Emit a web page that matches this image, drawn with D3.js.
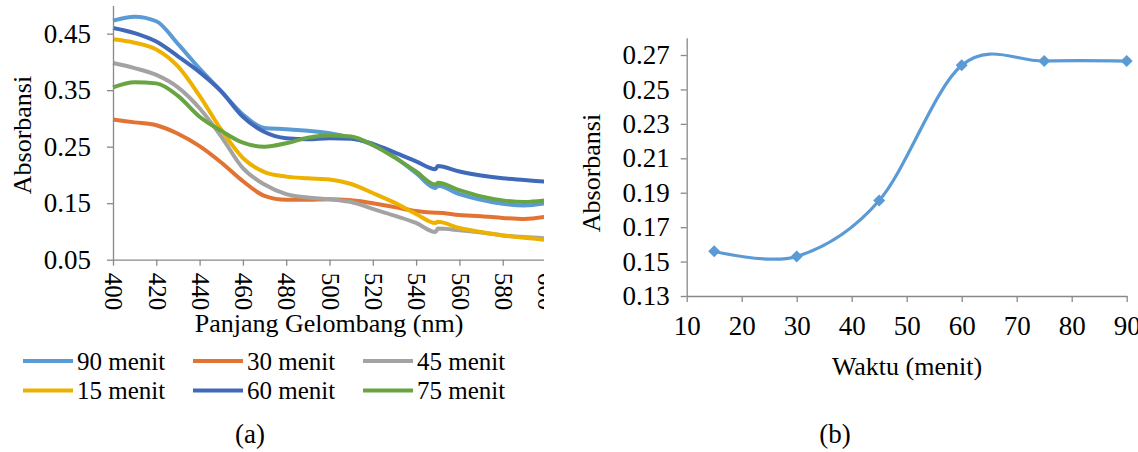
<!DOCTYPE html>
<html>
<head>
<meta charset="utf-8">
<script src="https://cdn.jsdelivr.net/npm/d3@7"></script>
<style>
  body { margin: 0; background: #fff; }
  svg { display: block; }
  .axis path, .axis line { stroke: #898989; stroke-width: 1.3; }
</style>
</head>
<body>
<svg id="chart" width="1138" height="452"></svg>
<script>
// (a) spectra
const wavelengths = [400, 410, 420, 430, 440, 450, 460, 470, 480, 490, 500, 510, 520, 530, 540, 549, 550, 560, 570, 580, 590, 600];
const abs90 = [0.473, 0.480, 0.472, 0.432, 0.388, 0.348, 0.307, 0.283, 0.281, 0.278, 0.274, 0.266, 0.253, 0.232, 0.203, 0.177, 0.181, 0.166, 0.156, 0.149, 0.146, 0.150];
const abs30 = [0.298, 0.293, 0.288, 0.273, 0.251, 0.222, 0.189, 0.163, 0.156, 0.156, 0.157, 0.155, 0.150, 0.143, 0.136, 0.133, 0.133, 0.129, 0.127, 0.124, 0.122, 0.126];
const abs45 = [0.398, 0.389, 0.377, 0.355, 0.318, 0.268, 0.212, 0.183, 0.166, 0.160, 0.157, 0.152, 0.140, 0.128, 0.115, 0.099, 0.105, 0.102, 0.098, 0.093, 0.090, 0.088];
const abs15 = [0.440, 0.434, 0.422, 0.392, 0.340, 0.280, 0.230, 0.205, 0.197, 0.194, 0.192, 0.184, 0.168, 0.151, 0.131, 0.115, 0.117, 0.106, 0.099, 0.093, 0.089, 0.085];
const abs60 = [0.460, 0.451, 0.436, 0.410, 0.382, 0.348, 0.303, 0.276, 0.265, 0.263, 0.265, 0.264, 0.255, 0.240, 0.224, 0.210, 0.216, 0.206, 0.199, 0.194, 0.191, 0.188];
const abs75 = [0.355, 0.364, 0.362, 0.340, 0.303, 0.278, 0.257, 0.250, 0.256, 0.266, 0.270, 0.268, 0.253, 0.231, 0.206, 0.183, 0.186, 0.173, 0.162, 0.155, 0.152, 0.155];

const seriesNames = ['90 menit', '30 menit', '45 menit', '15 menit', '60 menit', '75 menit'];
const seriesValues = [abs90, abs30, abs45, abs15, abs60, abs75];
const seriesColors = ['#5B9BD5', '#E37332', '#A3A3A3', '#EDB100', '#4169BA', '#68A542'];

const xTicksA = [400, 420, 440, 460, 480, 500, 520, 540, 560, 580, 600];
const yTicksA = [0.05, 0.15, 0.25, 0.35, 0.45];

// (b) absorbance vs time
const times = [15, 30, 45, 60, 75, 90];
const absTime = [0.156, 0.153, 0.1855, 0.264, 0.2665, 0.2665];
const xTicksB = [10, 20, 30, 40, 50, 60, 70, 80, 90];
const yTicksB = [0.13, 0.15, 0.17, 0.19, 0.21, 0.23, 0.25, 0.27];

const FONT = '"Liberation Serif", "DejaVu Serif", serif';
const svg = d3.select('#chart');

// ---------- panel (a) ----------
svg.append('defs').append('clipPath').attr('id', 'clipA')
  .append('rect').attr('x', 0).attr('y', 0).attr('width', 544).attr('height', 452);

const pa = svg.append('g').attr('clip-path', 'url(#clipA)');

const xA = d3.scaleLinear().domain([400, 600]).range([113, 546]);
const yA = d3.scaleLinear().domain([0.05, 0.5]).range([259.7, 5.4]);

const lineA = d3.line()
  .x((d, i) => xA(wavelengths[i]))
  .y(d => yA(d))
  .curve(d3.curveMonotoneX);

pa.selectAll('path.spec')
  .data(seriesValues)
  .enter().append('path')
    .attr('class', 'spec')
    .attr('d', d => lineA(d))
    .attr('fill', 'none')
    .attr('stroke', (d, i) => seriesColors[i])
    .attr('stroke-width', 4)
    .attr('stroke-linejoin', 'round');

pa.append('g')
  .attr('class', 'axis')
  .attr('transform', 'translate(113,0)')
  .call(d3.axisLeft(yA).tickValues(yTicksA).tickFormat(d3.format('.2f')).tickSize(6).tickSizeOuter(0).tickPadding(16));

const xAxisA = pa.append('g')
  .attr('class', 'axis rot')
  .attr('transform', 'translate(0,259.7)')
  .call(d3.axisBottom(xA).tickValues(xTicksA).tickFormat(d3.format('d')).tickSize(6).tickSizeOuter(0));

xAxisA.selectAll('text')
  .attr('transform', 'rotate(90)')
  .attr('x', 13)
  .attr('y', 0)
  .attr('dy', '0.33em')
  .attr('text-anchor', 'start');

pa.append('text')
  .attr('class', 'title')
  .attr('transform', 'translate(31,135) rotate(-90)')
  .attr('text-anchor', 'middle')
  .text('Absorbansi');

pa.append('text')
  .attr('class', 'title')
  .attr('x', 329).attr('y', 332)
  .attr('text-anchor', 'middle')
  .text('Panjang Gelombang (nm)');

// legend, 3 columns x 2 rows
const legendCols = [23, 193, 363];
const legendRows = [361, 390.5];
const legend = pa.selectAll('g.leg')
  .data(seriesNames)
  .enter().append('g')
    .attr('class', 'leg')
    .attr('transform', (d, i) => `translate(${legendCols[i % 3]},${legendRows[Math.floor(i / 3)]})`);

legend.append('line')
  .attr('x1', 0).attr('x2', 50)
  .attr('y1', 0).attr('y2', 0)
  .attr('stroke', (d, i) => seriesColors[i])
  .attr('stroke-width', 4);

legend.append('text')
  .attr('x', 54).attr('y', 0)
  .attr('dy', '0.35em')
  .text(d => d);

svg.append('text')
  .attr('class', 'caption')
  .attr('x', 250).attr('y', 443)
  .attr('text-anchor', 'middle')
  .text('(a)');

// ---------- panel (b) ----------
const xB = d3.scaleLinear().domain([10, 90]).range([686.7, 1126.7]);
const yB = d3.scaleLinear().domain([0.13, 0.28]).range([296, 37.8]);

const lineB = d3.line()
  .x((d, i) => xB(times[i]))
  .y(d => yB(d))
  .curve(d3.curveCardinal.tension(0));

svg.append('g')
  .attr('class', 'axis')
  .attr('transform', 'translate(686.7,0)')
  .call(d3.axisLeft(yB).tickValues(yTicksB).tickFormat(d3.format('.2f')).tickSize(6).tickSizeOuter(0).tickPadding(11));

svg.append('g')
  .attr('class', 'axis')
  .attr('transform', 'translate(0,296)')
  .call(d3.axisBottom(xB).tickValues(xTicksB).tickFormat(d3.format('d')).tickSize(6).tickSizeOuter(0).tickPadding(14));

svg.append('path')
  .attr('d', lineB(absTime))
  .attr('fill', 'none')
  .attr('stroke', '#5B9BD5')
  .attr('stroke-width', 3.2);

svg.selectAll('path.mk')
  .data(absTime)
  .enter().append('path')
    .attr('class', 'mk')
    .attr('d', d3.symbol(d3.symbolSquare, 72))
    .attr('transform', (d, i) => `translate(${xB(times[i])},${yB(d)}) rotate(45)`)
    .attr('fill', '#5B9BD5');

svg.append('text')
  .attr('class', 'title')
  .attr('transform', 'translate(600,173) rotate(-90)')
  .attr('text-anchor', 'middle')
  .text('Absorbansi');

svg.append('text')
  .attr('class', 'title')
  .attr('x', 907).attr('y', 375)
  .attr('text-anchor', 'middle')
  .text('Waktu (menit)');

svg.append('text')
  .attr('class', 'caption')
  .attr('x', 835).attr('y', 443)
  .attr('text-anchor', 'middle')
  .text('(b)');

// fonts: serif everywhere, sizes per role
svg.selectAll('.axis').attr('font-family', null).attr('font-size', null);
svg.selectAll('text').style('font-family', FONT).style('fill', '#000').style('font-size', '25px');
svg.selectAll('.axis text').style('font-size', '27px');
svg.selectAll('.axis.rot text').style('font-size', '25px');
svg.selectAll('text.title').style('font-size', '26px');
svg.selectAll('text.caption').style('font-size', '27px');
</script>
</body>
</html>
